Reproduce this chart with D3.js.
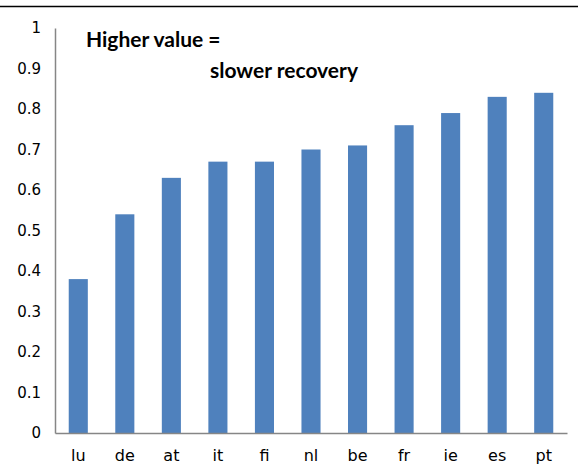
<!DOCTYPE html>
<html lang="en">
	<head>
		<meta charset="utf-8">
		<title></title>
		<style>
			body { margin: 0; background: #fff; }
			.tick text { font-family: "DejaVu Sans", Verdana, sans-serif; fill: #000; }
			.note { font-family: Lato, "Open Sans", sans-serif; font-weight: bold; fill: #000; }
		</style>
	</head>
	<body>
		<div id="container"></div>
		<script src="https://cdn.jsdelivr.net/npm/d3@7"></script>
		<script>
			// categories and values
			var countries = ["lu", "de", "at", "it", "fi", "nl", "be", "fr", "ie", "es", "pt"];
			var values = [0.38, 0.54, 0.63, 0.67, 0.67, 0.70, 0.71, 0.76, 0.79, 0.83, 0.84];
			var yTicks = [0, 0.1, 0.2, 0.3, 0.4, 0.5, 0.6, 0.7, 0.8, 0.9, 1];

			var margin = {top: 28, right: 17, bottom: 32, left: 55},
				width = 584 - margin.left - margin.right,
				height = 465 - margin.top - margin.bottom;

			var svg = d3.select("#container").append("svg")
				.attr("width", 584)
				.attr("height", 465);

			// black rule across the top
			svg.append("line")
				.attr("x1", 0).attr("x2", 578)
				.attr("y1", 6.5).attr("y2", 6.5)
				.attr("stroke", "#000")
				.attr("stroke-width", 1.5);

			var chart = svg.append("g")
				.attr("transform", "translate(" + margin.left + "," + margin.top + ")");

			var xScale = d3.scaleBand()
				.domain(countries)
				.range([0, width])
				.paddingInner(0.59)
				.paddingOuter(0.295);
			var yScale = d3.scaleLinear()
				.domain([0, 1])
				.range([height, 0]);

			chart.selectAll("rect")
				.data(values)
				.enter().append("rect")
				.attr("x", function(d, i) { return xScale(countries[i]); })
				.attr("width", xScale.bandwidth())
				.attr("y", function(d) { return yScale(d); })
				.attr("height", function(d) { return height - yScale(d); })
				.attr("fill", "#4f81bd");

			var yAxis = chart.append("g")
				.call(d3.axisLeft(yScale).tickValues(yTicks).tickSize(0).tickPadding(14)
					.tickFormat(function(d) { return d === 1 ? "1" : d === 0 ? "0" : d3.format(".1f")(d); }));
			yAxis.select(".domain").attr("stroke", "#868686").attr("stroke-width", 1.5);
			yAxis.selectAll("text").style("font-size", "15px");

			var xAxis = chart.append("g")
				.attr("transform", "translate(0," + height + ")")
				.call(d3.axisBottom(xScale).tickSize(0).tickPadding(17));
			xAxis.select(".domain").attr("stroke", "#868686").attr("stroke-width", 1.5);
			xAxis.selectAll("text").style("font-size", "16px");

			svg.append("text").attr("class", "note")
				.attr("x", 86).attr("y", 47)
				.style("font-size", "21px")
				.text("Higher value =");
			svg.append("text").attr("class", "note")
				.attr("x", 210).attr("y", 78)
				.style("font-size", "21px")
				.text("slower recovery");
		</script>
	</body>
</html>
